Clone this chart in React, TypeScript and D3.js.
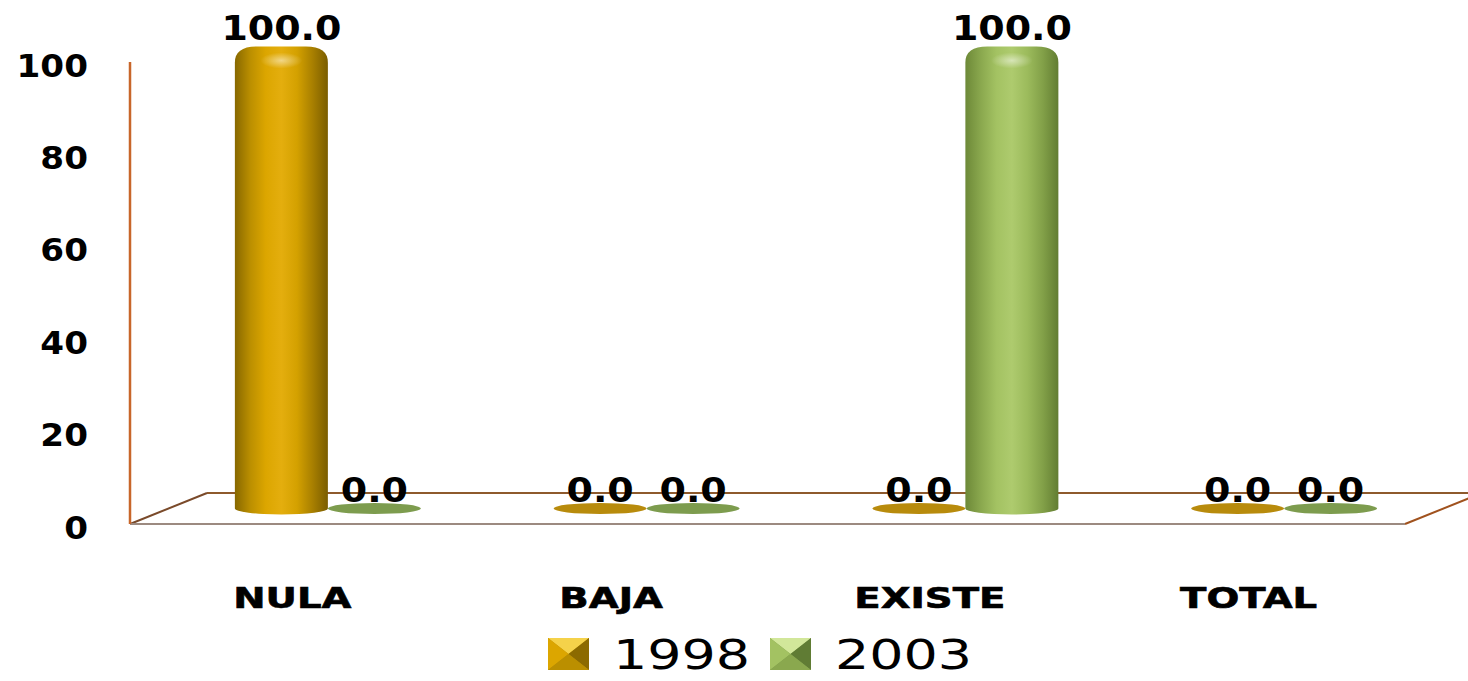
import React from "react";
import * as d3 from "d3";

const categories = ["NULA", "BAJA", "EXISTE", "TOTAL"];
const seriesNames = ["1998", "2003"];
const values1998 = [100, 0, 0, 0];
const values2003 = [0, 0, 100, 0];
const yTicks = [0, 20, 40, 60, 80, 100];

const W = 1468;
const H = 681;
const FONT = "'DejaVu Sans', Verdana, sans-serif";

// 3D geometry
const FRONT_LEFT = 130;
const FRONT_RIGHT = 1405;
const DEPTH_X = 77;
const DEPTH_Y = -31;

const yFront = d3.scaleLinear().domain([0, 100]).range([524, 62]);
const yBar = d3.scaleLinear().domain([0, 100]).range([524 + DEPTH_Y / 2, 62 + DEPTH_Y / 2]);
const xCat = d3.scaleBand<string>().domain(categories).range([FRONT_LEFT, FRONT_RIGHT]);
const xSeries = d3.scaleBand<string>().domain(seriesNames).range([-93, 93]);

const seriesValues = [values1998, values2003];
const palettes = [
  { id: "gold", stops: ["#876800", "#bb8f00", "#dca600", "#e4ae0e", "#d4a100", "#a98000", "#7a5d00"], flat: "#b88b0c", light: "#f5d24a", dark: "#8c6a00" },
  { id: "green", stops: ["#6d8938", "#8aa84e", "#a3c262", "#aecb6e", "#9cbb5c", "#82a048", "#627d32"], flat: "#7d9c4e", light: "#d2e79a", dark: "#607c34" },
];

function cylinderPath(cx: number, half: number, top: number, bottom: number) {
  const l = cx - half;
  const r = cx + half;
  const sx = 22;
  const sy = 16;
  const ry = 6;
  return [
    `M${l},${bottom}`,
    `L${l},${top + sy}`,
    `Q${l},${top} ${l + sx},${top}`,
    `L${r - sx},${top}`,
    `Q${r},${top} ${r},${top + sy}`,
    `L${r},${bottom}`,
    `A${half},${ry} 0 0 1 ${l},${bottom}`,
    "Z",
  ].join(" ");
}

export default function App() {
  const bw = xSeries.bandwidth();
  const half = bw / 2;
  const bars: any[] = [];
  const labels: any[] = [];
  categories.forEach((c, ci) => {
    const pairCenter = (xCat(c) as number) + xCat.bandwidth() / 2 + DEPTH_X / 2;
    seriesNames.forEach((s, si) => {
      const v = seriesValues[si][ci];
      const cx = pairCenter + (xSeries(s) as number) + half;
      const pal = palettes[si];
      const y0 = yBar(0);
      const yv = yBar(v);
      if (v > 0) {
        bars.push(
          <g key={`b-${c}-${s}`}>
            <path d={cylinderPath(cx, half, yv, y0)} fill={`url(#grad-${pal.id})`} />
            <ellipse cx={cx} cy={yv + 14} rx={half * 0.45} ry={8} fill={`url(#hl-${pal.id})`} />
          </g>
        );
      } else {
        bars.push(
          <ellipse key={`b-${c}-${s}`} cx={cx} cy={y0} rx={half} ry={5.5} fill={pal.flat} />
        );
      }
      labels.push(
        <text
          key={`l-${c}-${s}`}
          transform={`translate(${cx},${yv - 7}) scale(1.15,1)`}
          textAnchor="middle"
          fontFamily={FONT}
          fontWeight="bold"
          fontSize={33}
          fill="#000"
        >
          {v.toFixed(1)}
        </text>
      );
    });
  });

  const backY = yFront(0) + DEPTH_Y;
  const legendItems = seriesNames.map((s, i) => ({ s, x: 548 + i * 222, pal: palettes[i] }));

  return (
    <svg
      width={W}
      height={H}
      viewBox={`0 0 ${W} ${H}`}
      style={{ position: "absolute", left: 0, top: 0, background: "#fff" }}
    >
      <defs>
        {palettes.map((p) => (
          <linearGradient key={p.id} id={`grad-${p.id}`} x1="0" x2="1" y1="0" y2="0">
            {p.stops.map((col, k) => (
              <stop key={k} offset={`${(k / (p.stops.length - 1)) * 100}%`} stopColor={col} />
            ))}
          </linearGradient>
        ))}
        {palettes.map((p) => (
          <radialGradient key={`hl-${p.id}`} id={`hl-${p.id}`}>
            <stop offset="0%" stopColor="#fff" stopOpacity={0.5} />
            <stop offset="100%" stopColor="#fff" stopOpacity={0} />
          </radialGradient>
        ))}
      </defs>
      <rect x={0} y={0} width={W} height={H} fill="#fff" />

      {/* floor */}
      <line x1={FRONT_LEFT + DEPTH_X} y1={backY} x2={FRONT_RIGHT + DEPTH_X} y2={backY} stroke="#8e5a2c" strokeWidth={2} />
      <line x1={FRONT_LEFT} y1={yFront(0)} x2={FRONT_LEFT + DEPTH_X} y2={backY} stroke="#7a4a2a" strokeWidth={2} />
      <line x1={FRONT_RIGHT} y1={yFront(0)} x2={FRONT_RIGHT + DEPTH_X} y2={backY} stroke="#a0521e" strokeWidth={2} />
      <line x1={FRONT_LEFT} y1={yFront(0)} x2={FRONT_RIGHT} y2={yFront(0)} stroke="#9c8a80" strokeWidth={2} />
      {/* vertical axis */}
      <line x1={FRONT_LEFT} y1={yFront(100)} x2={FRONT_LEFT} y2={yFront(0)} stroke="#c8662a" strokeWidth={2.5} />

      {/* y tick labels */}
      {yTicks.map((t) => (
        <text
          key={t}
          transform={`translate(88,${yFront(t) + 14.5}) scale(1.07,1)`}
          textAnchor="end"
          fontFamily={FONT}
          fontWeight="bold"
          fontSize={32}
          fill="#000"
        >
          {t}
        </text>
      ))}

      {bars}
      {labels}

      {/* category labels */}
      {categories.map((c) => (
        <text
          key={c}
          transform={`translate(${(xCat(c) as number) + xCat.bandwidth() / 2 + 3},${608}) scale(1.38,1)`}
          textAnchor="middle"
          fontFamily={FONT}
          fontWeight="bold"
          fontSize={28}
          stroke="#000"
          strokeWidth={0.6}
          fill="#000"
        >
          {c}
        </text>
      ))}

      {/* legend */}
      {legendItems.map(({ s, x, pal }) => {
        const mw = 41;
        const mh = 32;
        const my = 638;
        const cxm = x + mw / 2;
        const cym = my + mh / 2;
        return (
          <g key={s}>
            <rect x={x} y={my} width={mw} height={mh} fill={pal.flat} />
            <polygon points={`${x},${my} ${x + mw},${my} ${cxm},${cym}`} fill={pal.light} />
            <polygon points={`${x},${my} ${x},${my + mh} ${cxm},${cym}`} fill={pal.stops[2]} />
            <polygon points={`${x + mw},${my} ${x + mw},${my + mh} ${cxm},${cym}`} fill={pal.dark} />
            <polygon points={`${x},${my + mh} ${x + mw},${my + mh} ${cxm},${cym}`} fill={pal.stops[1]} />
            <text
              x={x + 65}
              y={669}
              textLength={137}
              lengthAdjust="spacingAndGlyphs"
              fontFamily={FONT}
              fontSize={40}
              fill="#000"
            >
              {s}
            </text>
          </g>
        );
      })}
    </svg>
  );
}
